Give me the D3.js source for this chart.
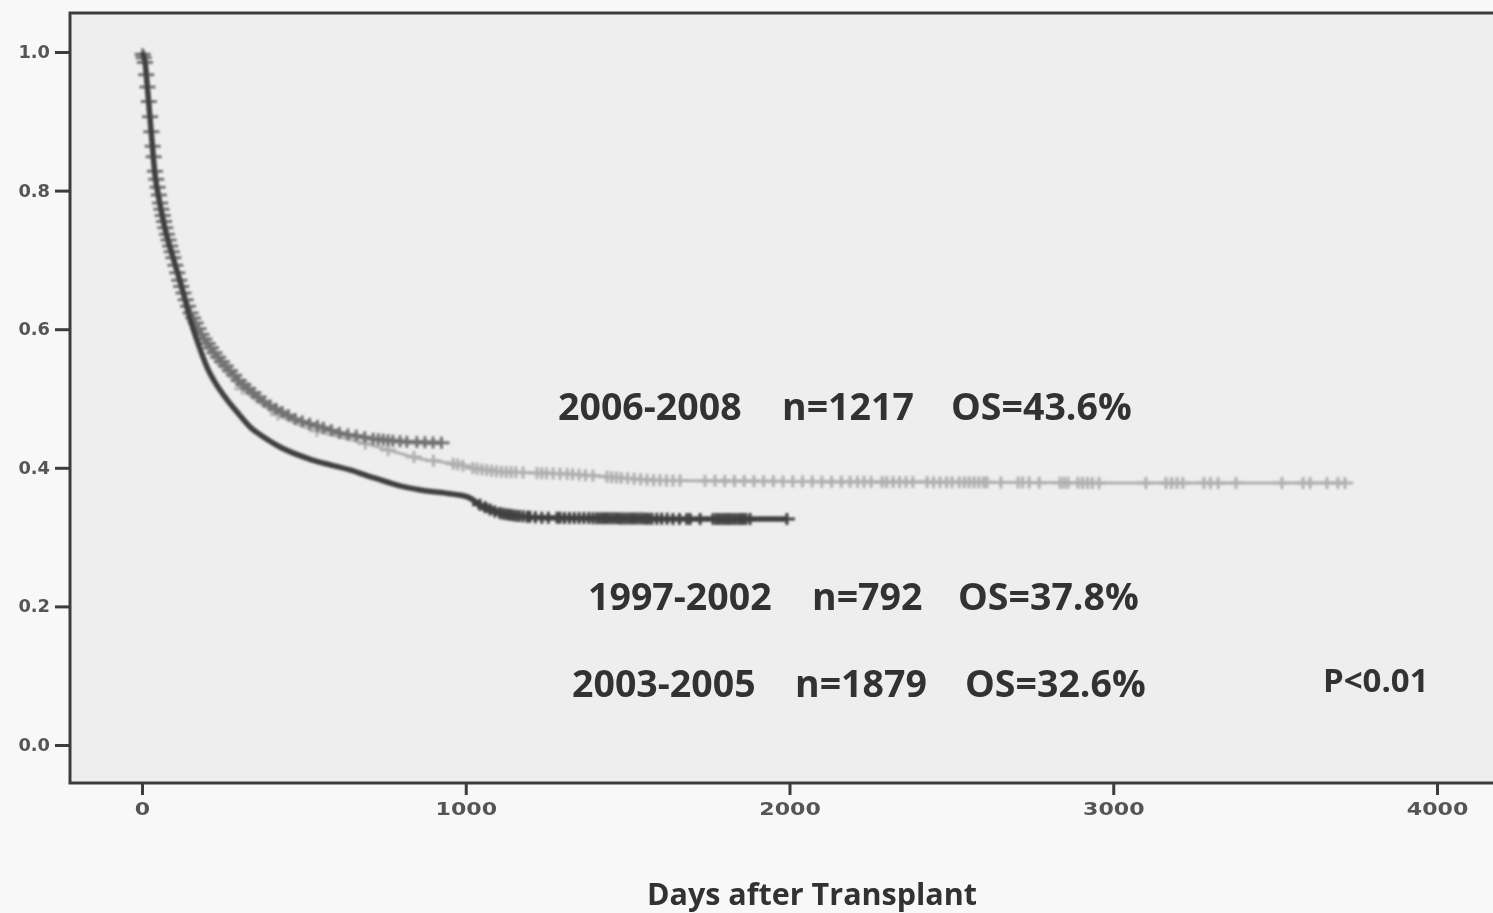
<!DOCTYPE html>
<html>
<head>
<meta charset="utf-8">
<script src="https://cdn.jsdelivr.net/npm/d3@7/dist/d3.min.js"></script>
<style>
  html, body { margin: 0; padding: 0; background: #f8f8f8; }
  svg { display: block; }
</style>
</head>
<body>
<svg id="chart" width="1493" height="913"></svg>
<script>
// Kaplan–Meier overall survival by transplant period
const groups = ["2006-2008", "1997-2002", "2003-2005"];
const groupN = [1217, 792, 1879];
const groupOS = [0.436, 0.378, 0.326];

// survival curve points: [day, survival]
const surv0608 = [[0,1],[9,0.985],[18,0.945],[28,0.89],[40,0.828],[56,0.782],[74,0.742],[96,0.705],[117,0.667],[148,0.625],[188,0.589],[232,0.561],[303,0.524],[386,0.492],[479,0.469],[545,0.46],[612,0.45],[714,0.442],[800,0.438],[925,0.436]];
const surv9702 = [[0,1],[9,0.985],[18,0.945],[28,0.889],[40,0.826],[56,0.78],[74,0.74],[96,0.702],[117,0.664],[148,0.62],[188,0.583],[232,0.553],[303,0.517],[350,0.498],[400,0.482],[460,0.467],[520,0.456],[580,0.448],[633,0.442],[700,0.434],[766,0.425],[860,0.413],[973,0.405],[1040,0.398],[1115,0.394],[1322,0.391],[1436,0.387],[1578,0.382],[1800,0.381],[2094,0.38],[2600,0.379],[3000,0.378],[3716,0.378]];
const surv0305 = [[0,1],[9,0.987],[18,0.941],[28,0.887],[40,0.823],[56,0.779],[74,0.739],[96,0.703],[120,0.666],[148,0.616],[175,0.577],[201,0.545],[230,0.52],[263,0.498],[300,0.477],[334,0.459],[380,0.443],[426,0.43],[528,0.411],[642,0.397],[720,0.385],[797,0.374],[860,0.368],[960,0.362],[1010,0.357],[1050,0.345],[1100,0.335],[1150,0.331],[1230,0.328],[1480,0.327],[1700,0.326],[1992,0.326]];

// censoring times (days)
const cens0608 = [2,5,9,13,17,21,25,29,33,36,40,44,48,52,56,60,64,68,72,77,82,87,92,97,103,109,115,121,128,135,142,150,158,166,175,184,193,203,213,224,235,247,259,272,285,299,313,328,344,360,377,395,413,432,452,473,495,518,542,560,585,610,636,662,688,714,730,745,760,775,797,818,849,874,899,925];
const cens9702 = [310,420,540,690,760,840,900,961,975,991,1022,1035,1050,1065,1080,1095,1110,1125,1140,1155,1177,1220,1235,1250,1270,1291,1313,1330,1350,1370,1393,1436,1450,1465,1480,1500,1520,1540,1560,1580,1600,1620,1640,1662,1739,1770,1800,1830,1860,1890,1920,1950,1980,2010,2040,2070,2100,2130,2160,2187,2210,2230,2252,2286,2300,2320,2340,2360,2381,2425,2445,2465,2485,2502,2524,2540,2555,2570,2585,2600,2610,2653,2706,2720,2740,2771,2836,2848,2860,2891,2905,2920,2935,2956,3101,3163,3180,3197,3215,3280,3300,3324,3379,3521,3586,3608,3660,3694,3716];
const cens0305 = [1044,1060,1075,1090,1105,1115,1125,1135,1145,1155,1165,1177,1190,1198,1215,1235,1255,1282,1291,1305,1320,1335,1350,1365,1380,1393,1405,1415,1425,1435,1445,1455,1465,1475,1485,1495,1505,1515,1525,1535,1545,1555,1565,1575,1590,1605,1622,1640,1660,1683,1693,1724,1764,1775,1785,1795,1805,1815,1825,1835,1845,1855,1865,1878,1992];

const xTicks = [0, 1000, 2000, 3000, 4000];
const yTicks = [0, 0.2, 0.4, 0.6, 0.8, 1.0];
const xTitle = "Days after Transplant";
const pText = "P<0.01";

const svg = d3.select("#chart");
const frame = { left: 70, top: 13, right: 1493, bottom: 783 };

const x = d3.scaleLinear().domain([0, 4000]).range([142, 1437]);
const y = d3.scaleLinear().domain([0, 1]).range([745, 52]);

// plot panel
svg.append("rect")
  .attr("x", frame.left).attr("y", frame.top)
  .attr("width", frame.right - frame.left).attr("height", frame.bottom - frame.top)
  .attr("fill", "#eeeeee");

const defs = svg.append("defs");
defs.append("filter").attr("id", "soft")
  .append("feGaussianBlur").attr("stdDeviation", 0.8);
defs.append("filter").attr("id", "softText")
  .append("feGaussianBlur").attr("stdDeviation", 0.4);

// series styling
const series = [
  { key: 1, pts: surv9702, cens: cens9702, color: "#b0b0b0", width: 3 },
  { key: 0, pts: surv0608, cens: cens0608, color: "#737373", width: 4.5 },
  { key: 2, pts: surv0305, cens: cens0305, color: "#404040", width: 5.5 }
];

function survAt(pts, t) {
  for (let i = 1; i < pts.length; i++) {
    if (t <= pts[i][0]) {
      const [t0, s0] = pts[i - 1], [t1, s1] = pts[i];
      return s0 + (s1 - s0) * (t - t0) / (t1 - t0);
    }
  }
  return pts[pts.length - 1][1];
}

const line = d3.line().x(d => x(d[0])).y(d => y(d[1])).curve(d3.curveMonotoneX);
const plot = svg.append("g").attr("filter", "url(#soft)");

series.forEach(s => {
  const g = plot.append("g");
  g.append("path").datum(s.pts)
    .attr("d", line).attr("fill", "none")
    .attr("stroke", s.color).attr("stroke-width", s.width)
    .attr("stroke-linejoin", "round");
  g.selectAll("path.cens").data(s.cens).join("path")
    .attr("class", "cens")
    .attr("d", d => {
      const cx = x(d), cy = y(survAt(s.pts, d));
      return `M${cx - 8},${cy}H${cx + 8}M${cx},${cy - 6}V${cy + 6}`;
    })
    .attr("stroke", s.color).attr("stroke-width", 3).attr("fill", "none");
});

// axes
const axisColor = "#3c3c3c";
const yAxis = svg.append("g").attr("transform", `translate(${frame.left},0)`)
  .call(d3.axisLeft(y).tickValues(yTicks).tickFormat(d3.format(".1f")).tickSize(15).tickPadding(5).tickSizeOuter(0));
const xAxis = svg.append("g").attr("transform", `translate(0,${frame.bottom})`)
  .call(d3.axisBottom(x).tickValues(xTicks).tickFormat(d3.format("d")).tickSize(12).tickPadding(8).tickSizeOuter(0));

[yAxis, xAxis].forEach(a => {
  a.select(".domain").remove();
  a.selectAll(".tick line").attr("stroke", axisColor).attr("stroke-width", 3);
  a.selectAll(".tick text")
    .attr("fill", "#555")
    .attr("filter", "url(#softText)")
    .style("font-family", "'DejaVu Sans', sans-serif")
    .style("font-weight", "bold")
    .style("font-size", "17px");
});
yAxis.selectAll(".tick text").each(function () {
  d3.select(this).attr("textLength", this.getComputedTextLength() * 1.05).attr("lengthAdjust", "spacingAndGlyphs");
});
xAxis.selectAll(".tick text").each(function () {
  d3.select(this).attr("textLength", this.getComputedTextLength() * 1.3).attr("lengthAdjust", "spacingAndGlyphs");
});

// panel frame: left, top, bottom
svg.append("path")
  .attr("d", `M${frame.right},${frame.top}H${frame.left}V${frame.bottom}H${frame.right}`)
  .attr("fill", "none").attr("stroke", axisColor).attr("stroke-width", 3);

// group annotations
const annot = [
  { g: 0, y: 420, xs: [558, 782, 951] },
  { g: 1, y: 610, xs: [588, 812, 958] },
  { g: 2, y: 697, xs: [572, 795, 965] }
];
const txt = svg.append("g")
  .attr("filter", "url(#softText)")
  .style("font-family", "'Open Sans', sans-serif")
  .style("font-weight", 700)
  .attr("fill", "#333");
annot.forEach(a => {
  const parts = [groups[a.g], `n=${groupN[a.g]}`, `OS=${(groupOS[a.g] * 100).toFixed(1)}%`];
  parts.forEach((p, i) => {
    txt.append("text").attr("x", a.xs[i]).attr("y", a.y)
      .style("font-size", "37.5px").text(p);
  });
});
txt.append("text").attr("x", 1323).attr("y", 692).style("font-size", "33px").text(pText);

svg.append("text")
  .attr("x", 812).attr("y", 905).attr("text-anchor", "middle")
  .attr("filter", "url(#softText)")
  .style("font-family", "'Open Sans', sans-serif").style("font-weight", 700)
  .style("font-size", "30.5px").attr("fill", "#333")
  .text(xTitle);
</script>
</body>
</html>
